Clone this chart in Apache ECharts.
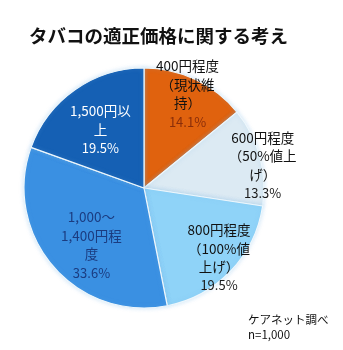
<!DOCTYPE html>
<html><head><meta charset="utf-8">
<script src="https://cdn.jsdelivr.net/npm/echarts@6/dist/echarts.min.js"></script>
<style>html,body{margin:0;padding:0;background:#fff}#c{width:343px;height:350px}</style>
</head><body><div id="c"></div>
<script>
const categories = ['400円程度（現状維持）','600円程度（50%値上げ）','800円程度（100%値上げ）','1,000～1,400円程度','1,500円以上'];
const values = [14.1, 13.3, 19.5, 33.6, 19.5];
const labelLines = [
  ['400円程度','（現状維','持）'],
  ['600円程度','（50%値上','げ）'],
  ['800円程度','（100%値','上げ）'],
  ['1,000～','1,400円程','度'],
  ['1,500円以','上']
];
const titleText = 'タバコの適正価格に関する考え';
const sourceText = 'ケアネット調べ';
const sampleText = 'n=1,000';

const colors = ['#E0620E','#DCEAF3','#8FD3F8','#3A90E2','#1560B4'];
const nameColors = ['#111111','#111111','#111111','#1B3C80','#ffffff'];
const pctColors = ['#8A2E0A','#1a1a1a','#1a1a1a','#1B3C80','#ffffff'];
const labelRadius = [0.86, 1.0, 0.84, 0.64, 0.65];
const labelNudge = [[-2,2],[0,10],[0,-2],[8,5],[3,8]];
const R = 120;
const FONT = '"Noto Sans CJK JP", "Noto Sans", sans-serif';

const total = values.reduce((a,b)=>a+b,0);
let cum = 0;
const data = values.map((v,i)=>{
  const mid = (cum + v/2)/total*2*Math.PI; cum += v;
  const d = (labelRadius[i]-0.5)*R;
  return {
    name: categories[i], value: v,
    itemStyle: {color: colors[i]},
    label: {
      offset: [d*Math.sin(mid) + labelNudge[i][0], -d*Math.cos(mid) + labelNudge[i][1]],
      rich: {
        n: {color: nameColors[i], fontSize: 13.5, lineHeight: 18.5, fontFamily: FONT, align:'center'},
        p: {color: pctColors[i], fontSize: 13, lineHeight: 18.5, fontFamily: FONT, align:'center'}
      }
    }
  };
});

const chart = echarts.init(document.getElementById('c'));
chart.setOption({
  animation: false,
  title: [
    {text: titleText, left: 24, top: 22, textStyle: {fontSize: 18.5, fontWeight: 'bold', color: '#111', fontFamily: FONT}},
    {text: sourceText + '\n' + sampleText, left: 243, top: 307,
     textStyle: {fontSize: 11.5, fontWeight: 'normal', color: '#111', fontFamily: FONT, lineHeight: 15}}
  ],
  series: [{
    type: 'pie',
    center: [144, 188],
    radius: [0, R],
    startAngle: 90,
    clockwise: true,
    itemStyle: {borderColor: '#eef7fc', borderWidth: 1.2, shadowBlur: 4, shadowColor: 'rgba(120,180,230,0.35)'},
    label: {
      show: true, position: 'inside',
      formatter: p => labelLines[p.dataIndex].map(s=>'{n|'+s+'}').join('\n') + '\n{p|' + p.value.toFixed(1) + '%}'
    },
    labelLine: {show: false},
    emphasis: {disabled: true},
    data: data
  }]
});
</script></body></html>
